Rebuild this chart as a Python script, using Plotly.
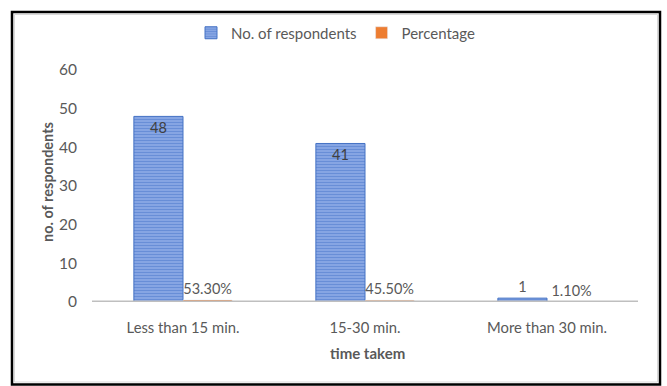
import plotly.graph_objects as go

categories = ["Less than 15 min.", "15-30 min.", "More than 30 min."]
respondents = [48, 41, 1]
percentage = [0.533, 0.455, 0.011]
y_ticks = [0, 10, 20, 30, 40, 50, 60]

W, H = 667, 386
L, R, T, B = 92, 29, 70, 84
PW, PH = W - L - R, H - T - B

def px(x):
    return (x - L) / PW

def py(y):
    return (H - B - y) / PH

FONT = "Lato"
GREY = "#595959"

fig = go.Figure()
fig.add_trace(go.Bar(
    name="No. of respondents",
    x=categories,
    y=respondents,
    text=[str(v) for v in respondents],
    textposition=["inside", "inside", "outside"],
    insidetextanchor="end",
    textfont=dict(family=FONT, size=14.5, color="#404040"),
    outsidetextfont=dict(family=FONT, size=14.5, color=GREY),
    marker=dict(
        color="#86a5e3",
        line=dict(color="#4472c4", width=1),
        pattern=dict(shape="-", fgcolor="#4a77cc", bgcolor="#86a5e3",
                     size=3, solidity=0.35),
    ),
    cliponaxis=False,
))
fig.add_trace(go.Bar(
    name="Percentage",
    x=categories,
    y=percentage,
    text=[f"{v * 100:.2f}%" for v in percentage],
    textposition="outside",
    textfont=dict(family=FONT, size=14.5, color=GREY),
    marker=dict(color="#ed7d31"),
    cliponaxis=False,
))

fig.update_layout(
    width=W, height=H,
    margin=dict(l=L, r=R, t=T, b=B),
    paper_bgcolor="white",
    plot_bgcolor="white",
    barmode="group",
    bargap=0.46,
    bargroupgap=0,
    font=dict(family=FONT, size=15, color=GREY),
    showlegend=True,
    legend=dict(
        orientation="h",
        x=px(191), xanchor="left",
        y=py(33), yanchor="middle",
        font=dict(family=FONT, size=15, color=GREY),
        itemwidth=30,
        traceorder="normal",
    ),
)

fig.update_xaxes(
    showline=False,
    showgrid=False, ticks="",
    tickfont=dict(family=FONT, size=14.8, color=GREY),
    ticklabelstandoff=15,
)
fig.update_yaxes(
    range=[0, 60],
    tickvals=y_ticks,
    showline=False, showgrid=False, zeroline=False, ticks="",
    tickfont=dict(family=FONT, size=15.5, color=GREY),
    ticklabelstandoff=14,
)

# category axis line along the baseline, over the bar bases
fig.add_shape(
    type="line", xref="paper", yref="y",
    x0=0, x1=1, y0=0, y1=0,
    line=dict(color="#bfbfbf", width=3),
    layer="above",
)

fig.add_annotation(
    text="<b>time takem</b>", xref="paper", yref="paper",
    x=px(367), y=py(353), xanchor="center", yanchor="middle",
    showarrow=False,
    font=dict(family=FONT, size=15, color=GREY),
)
fig.add_annotation(
    text="<b>no. of respondents</b>", xref="paper", yref="paper",
    x=px(47), y=py(182), xanchor="center", yanchor="middle",
    showarrow=False, textangle=-90,
    font=dict(family=FONT, size=14.5, color=GREY),
)

# chart frame
fig.add_shape(
    type="rect", xref="paper", yref="paper",
    x0=px(12), x1=px(660), y0=py(384.5), y1=py(12),
    line=dict(color="black", width=2.5), fillcolor="rgba(0,0,0,0)",
    layer="above",
)
fig.add_shape(
    type="rect", xref="paper", yref="paper",
    x0=px(14.5), x1=px(657.5), y0=py(382), y1=py(14.5),
    line=dict(color="#d9d9d9", width=1), fillcolor="rgba(0,0,0,0)",
    layer="above",
)

fig.write_html("out.html")
